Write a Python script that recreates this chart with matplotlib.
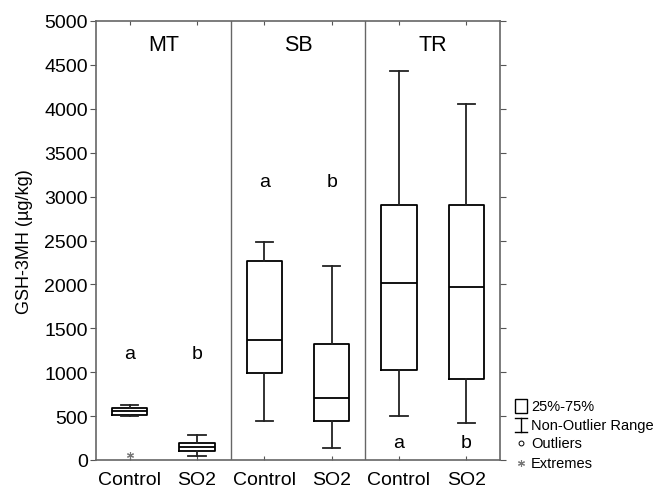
import matplotlib
matplotlib.use("Agg")
import matplotlib.pyplot as plt
from matplotlib.lines import Line2D
from matplotlib.patches import Rectangle

plt.rcParams['font.family'] = ['Liberation Sans', 'DejaVu Sans']

panels = ["MT", "SB", "TR"]
treatments = ["Control", "SO2"]
# per box: whisker low, q1, median, q3, whisker high
whislo = [500, 45, 440, 140, 500, 420]
q1 = [510, 100, 995, 445, 1030, 920]
med = [560, 145, 1365, 705, 2020, 1970]
q3 = [590, 190, 2270, 1325, 2900, 2910]
whishi = [630, 290, 2480, 2205, 4430, 4050]
extremes = [[57], [], [], [], [], []]
letters = ["a", "b", "a", "b", "a", "b"]
letter_y = [1210, 1210, 3170, 3170, 205, 205]

fig = plt.figure(figsize=(6.57, 4.89), dpi=100)
ax = fig.add_axes([96/657, 1-461/489, (500-96)/657, (461-22)/489])

positions = [p + o for p in range(3) for o in (0.25, 0.75)]
stats = []
for i in range(6):
    stats.append(dict(whislo=whislo[i], q1=q1[i], med=med[i], q3=q3[i],
                      whishi=whishi[i], fliers=[]))
lw = 1.3
ax.bxp(stats, positions=positions, widths=0.26, capwidths=0.13,
       boxprops=dict(color='black', linewidth=lw),
       medianprops=dict(color='black', linewidth=lw),
       whiskerprops=dict(color='#222222', linewidth=lw),
       capprops=dict(color='#222222', linewidth=lw),
       showfliers=False)
for pos, ex in zip(positions, extremes):
    if ex:
        ax.plot([pos]*len(ex), ex, linestyle='none', marker=(6, 2, 0),
                markersize=5, color='#777777', markeredgewidth=0.8)

for i, (pos, l, ly) in enumerate(zip(positions, letters, letter_y)):
    ax.text(pos, ly, l, ha='center', va='center', fontsize=14)

for j, name in enumerate(panels):
    ax.text(j + 0.5, 4730, name, ha='center', va='center', fontsize=15.5)

for xb in (1, 2):
    ax.axvline(xb, color='#666666', linewidth=1.0)

ax.set_xlim(0, 3)
ax.set_ylim(0, 5000)
ax.set_yticks(range(0, 5001, 500))
ax.set_xticks(positions)
ax.set_xticklabels(treatments * 3, fontsize=14)
ax.tick_params(axis='y', labelsize=14, direction='out', length=4, color='#555555',
               pad=2, right=True)
ax.tick_params(axis='x', direction='in', length=3, color='#555555', pad=8, top=True)
for s in ax.spines.values():
    s.set_color('#666666')
    s.set_linewidth(1.2)
ax.set_ylabel("GSH-3MH (µg/kg)", fontsize=13, labelpad=8)

# legend (drawn in figure pixel coordinates)
W, H = 657, 489
def fx(x):
    return x / W
def fy(y):
    return 1 - y / H

fig.patches.append(Rectangle((fx(515), fy(414)), 12/W, 14/H, transform=fig.transFigure,
                             fill=False, edgecolor='black', linewidth=1.0))
fig.lines.append(Line2D([fx(521), fx(521)], [fy(419), fy(433)], transform=fig.transFigure, color='black', lw=1.0))
fig.lines.append(Line2D([fx(515), fx(527)], [fy(419), fy(419)], transform=fig.transFigure, color='black', lw=1.0))
fig.lines.append(Line2D([fx(515), fx(527)], [fy(433), fy(433)], transform=fig.transFigure, color='black', lw=1.0))
fig.lines.append(Line2D([fx(521)], [fy(444)], transform=fig.transFigure, marker='o', markersize=3.5,
                        markerfacecolor='white', markeredgecolor='black', markeredgewidth=0.7, linestyle='none'))
fig.lines.append(Line2D([fx(521)], [fy(464)], transform=fig.transFigure, marker=(6, 2, 0), markersize=5,
                        color='#777777', markeredgewidth=0.8, linestyle='none'))
leg_labels = ["25%-75%", "Non-Outlier Range", "Outliers", "Extremes"]
leg_y = [407, 426, 444, 464]
for t, y in zip(leg_labels, leg_y):
    fig.text(fx(531), fy(y), t, ha='left', va='center', fontsize=10.5)

fig.savefig("out.png", dpi=100)
